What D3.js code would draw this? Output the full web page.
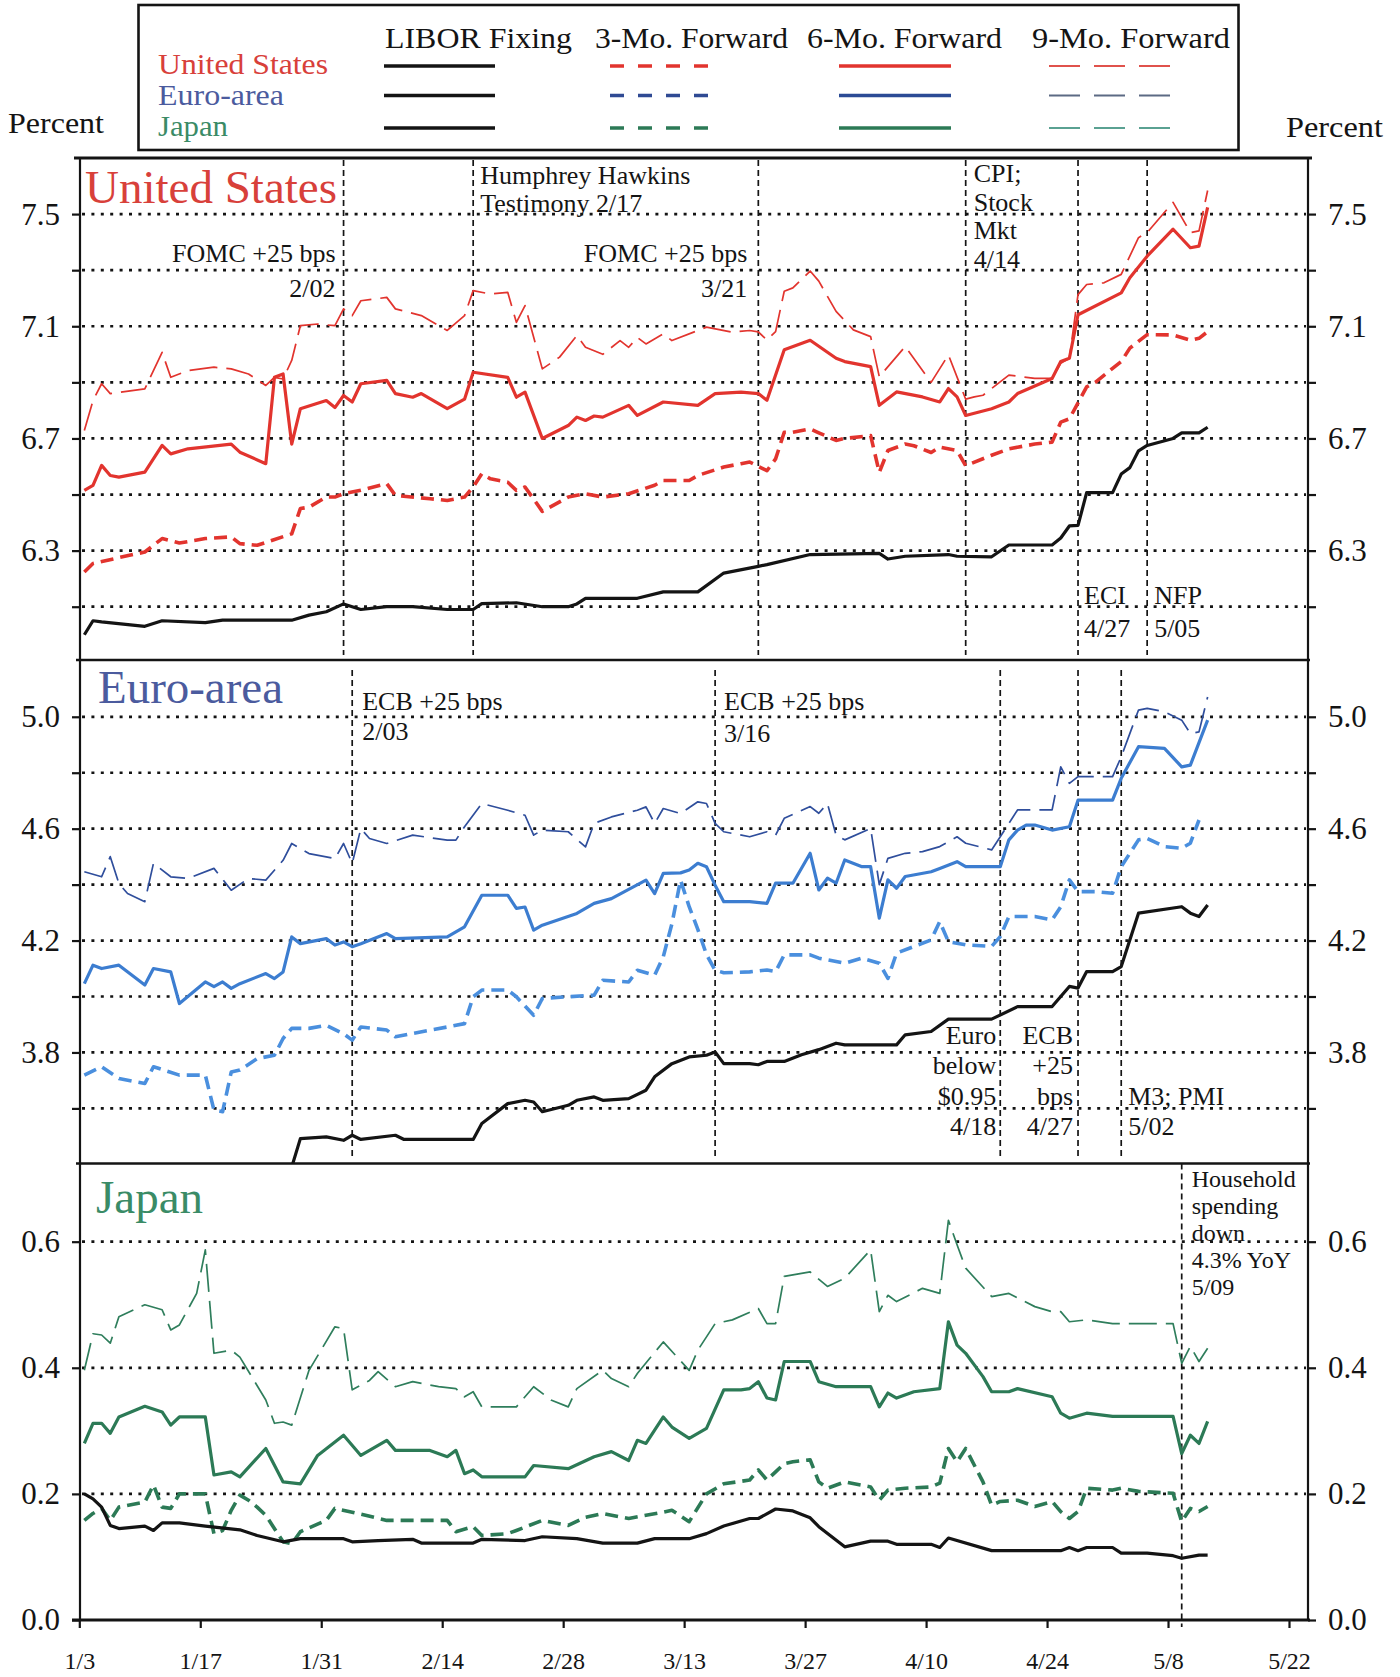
<!DOCTYPE html>
<html>
<head>
<meta charset="utf-8">
<script src="https://cdnjs.cloudflare.com/ajax/libs/d3/7.8.5/d3.min.js"></script>
<style>
  body { margin: 0; background: #fff; }
  svg { display: block; font-family: "Liberation Serif", "Times New Roman", serif; }
</style>
</head>
<body>
<svg id="chart" width="1400" height="1677"></svg>
<script>
// ---------------- Data: daily quotes, percent ----------------
const usLibor = [["1/3",6.00],["1/4",6.05],["1/5",6.046],["1/10",6.03],["1/12",6.05],["1/17",6.043],["1/19",6.052],["1/27",6.052],["1/29",6.07],["1/31",6.082],["2/2",6.11],["2/3",6.10],["2/4",6.09],["2/7",6.10],["2/10",6.10],["2/14",6.09],["2/17",6.09],["2/18",6.111],["2/22",6.114],["2/25",6.10],["2/28",6.10],["2/29",6.11],["3/1",6.13],["3/7",6.13],["3/10",6.153],["3/14",6.153],["3/17",6.22],["3/21",6.244],["3/22",6.25],["3/27",6.286],["4/4",6.29],["4/5",6.27],["4/7",6.28],["4/12",6.286],["4/13",6.28],["4/17",6.278],["4/19",6.32],["4/24",6.32],["4/25",6.345],["4/26",6.388],["4/27",6.39],["4/28",6.507],["5/1",6.507],["5/2",6.573],["5/3",6.596],["5/4",6.656],["5/5",6.675],["5/8",6.70],["5/9",6.72],["5/11",6.72],["5/12",6.74]];
const us3m = [["1/3",6.224],["1/4",6.254],["1/7",6.275],["1/10",6.295],["1/12",6.343],["1/14",6.327],["1/17",6.343],["1/20",6.349],["1/21",6.325],["1/23",6.319],["1/27",6.36],["1/28",6.45],["1/29",6.455],["1/31",6.491],["2/1",6.491],["2/2",6.503],["2/4",6.515],["2/7",6.539],["2/8",6.497],["2/12",6.485],["2/14",6.479],["2/16",6.491],["2/17",6.527],["2/18",6.574],["2/19",6.556],["2/21",6.544],["2/22",6.515],["2/23",6.527],["2/25",6.44],["2/28",6.491],["3/1",6.503],["3/3",6.491],["3/6",6.503],["3/9",6.533],["3/10",6.55],["3/13",6.55],["3/14",6.568],["3/17",6.598],["3/19",6.61],["3/20",6.616],["3/22",6.585],["3/23",6.627],["3/24",6.722],["3/25",6.722],["3/27",6.734],["3/28",6.72],["3/30",6.693],["3/31",6.70],["4/3",6.71],["4/4",6.579],["4/5",6.657],["4/7",6.68],["4/8",6.674],["4/10",6.65],["4/11",6.669],["4/13",6.657],["4/14",6.603],["4/17",6.64],["4/19",6.663],["4/22",6.68],["4/24",6.687],["4/25",6.758],["4/26",6.77],["4/28",6.884],["4/29",6.90],["5/1",6.95],["5/2",6.974],["5/3",7.022],["5/5",7.07],["5/8",7.069],["5/10",7.05],["5/11",7.057],["5/12",7.081]];
const us6m = [["1/3",6.515],["1/4",6.533],["1/5",6.604],["1/6",6.568],["1/7",6.562],["1/10",6.58],["1/12",6.675],["1/13",6.645],["1/15",6.663],["1/20",6.68],["1/21",6.651],["1/24",6.61],["1/25",6.918],["1/26",6.93],["1/27",6.68],["1/28",6.806],["1/31",6.835],["2/1",6.81],["2/2",6.853],["2/3",6.83],["2/4",6.895],["2/7",6.907],["2/8",6.86],["2/10",6.847],["2/11",6.86],["2/14",6.806],["2/16",6.84],["2/17",6.936],["2/21",6.918],["2/22",6.847],["2/23",6.865],["2/25",6.70],["2/28",6.746],["2/29",6.776],["3/1",6.764],["3/2",6.78],["3/3",6.776],["3/6",6.818],["3/7",6.782],["3/10",6.83],["3/14",6.818],["3/16",6.86],["3/19",6.865],["3/21",6.86],["3/22",6.836],["3/24",7.016],["3/27",7.05],["3/30",6.986],["3/31",6.974],["4/3",6.956],["4/4",6.818],["4/6",6.866],["4/9",6.848],["4/11",6.83],["4/12",6.878],["4/13",6.848],["4/14",6.782],["4/17",6.806],["4/19",6.83],["4/20",6.86],["4/24",6.914],["4/25",6.974],["4/26",6.986],["4/27",7.141],["5/2",7.219],["5/3",7.273],["5/5",7.35],["5/8",7.446],["5/10",7.38],["5/11",7.386],["5/12",7.524]];
const us9m = [["1/3",6.728],["1/4",6.835],["1/5",6.895],["1/6",6.86],["1/10",6.877],["1/12",7.007],["1/13",6.918],["1/15",6.942],["1/18",6.954],["1/20",6.948],["1/22",6.93],["1/24",6.889],["1/25",6.918],["1/26",6.912],["1/27",6.978],["1/28",7.102],["1/30",7.108],["2/1",7.102],["2/2",7.162],["2/3",7.138],["2/4",7.191],["2/7",7.203],["2/8",7.162],["2/11",7.138],["2/14",7.085],["2/16",7.138],["2/17",7.227],["2/19",7.215],["2/21",7.221],["2/22",7.114],["2/23",7.174],["2/25",6.948],["2/27",6.99],["2/29",7.067],["3/1",7.025],["3/3",7.0],["3/5",7.049],["3/6",7.025],["3/7",7.06],["3/8",7.037],["3/10",7.073],["3/11",7.049],["3/15",7.097],["3/18",7.079],["3/20",7.085],["3/21",7.08],["3/22",7.051],["3/23",7.081],["3/24",7.225],["3/25",7.237],["3/27",7.297],["3/28",7.261],["3/30",7.153],["4/1",7.087],["4/3",7.063],["4/4",6.92],["4/7",7.028],["4/10",6.90],["4/12",6.998],["4/14",6.84],["4/15",6.848],["4/16",6.854],["4/19",6.926],["4/22",6.914],["4/24",6.914],["4/25",6.968],["4/26",6.986],["4/27",7.213],["4/28",7.249],["4/30",7.255],["5/2",7.285],["5/4",7.416],["5/5",7.434],["5/8",7.542],["5/10",7.434],["5/11",7.44],["5/12",7.584]];

const euLibor = [["1/27",3.39],["1/28",3.492],["1/31",3.498],["2/2",3.486],["2/3",3.504],["2/4",3.489],["2/8",3.504],["2/9",3.489],["2/17",3.489],["2/18",3.546],["2/21",3.617],["2/23",3.629],["2/24",3.623],["2/25",3.588],["2/28",3.611],["2/29",3.629],["3/2",3.641],["3/3",3.629],["3/6",3.635],["3/8",3.665],["3/9",3.713],["3/11",3.76],["3/13",3.784],["3/15",3.79],["3/16",3.802],["3/17",3.76],["3/20",3.76],["3/21",3.756],["3/22",3.768],["3/24",3.768],["3/26",3.792],["3/28",3.81],["3/30",3.833],["3/31",3.827],["4/6",3.827],["4/7",3.863],["4/10",3.875],["4/12",3.919],["4/17",3.919],["4/20",3.964],["4/24",3.964],["4/26",4.036],["4/27",4.03],["4/28",4.089],["5/1",4.089],["5/2",4.107],["5/4",4.298],["5/9",4.321],["5/10",4.298],["5/11",4.286],["5/12",4.327]];
const eu3m = [["1/3",3.719],["1/5",3.749],["1/7",3.707],["1/10",3.689],["1/11",3.749],["1/14",3.719],["1/17",3.719],["1/18",3.594],["1/19",3.588],["1/20",3.73],["1/21",3.737],["1/23",3.778],["1/25",3.79],["1/26",3.85],["1/27",3.886],["1/29",3.886],["1/31",3.897],["2/2",3.867],["2/3",3.844],["2/4",3.891],["2/7",3.88],["2/8",3.856],["2/12",3.88],["2/14",3.891],["2/16",3.903],["2/17",3.999],["2/18",4.023],["2/21",4.023],["2/22",3.999],["2/24",3.933],["2/25",3.993],["2/28",3.999],["3/2",4.005],["3/3",4.058],["3/6",4.052],["3/7",4.094],["3/9",4.076],["3/10",4.142],["3/11",4.26],["3/12",4.416],["3/13",4.321],["3/14",4.24],["3/15",4.15],["3/16",4.094],["3/17",4.085],["3/20",4.088],["3/22",4.095],["3/23",4.089],["3/24",4.149],["3/27",4.149],["3/28",4.137],["3/31",4.119],["4/2",4.137],["4/4",4.119],["4/5",4.065],["4/6",4.155],["4/10",4.202],["4/11",4.268],["4/12",4.196],["4/14",4.185],["4/17",4.179],["4/18",4.214],["4/19",4.286],["4/22",4.286],["4/24",4.274],["4/25",4.321],["4/26",4.417],["4/27",4.375],["4/29",4.375],["5/1",4.369],["5/2",4.464],["5/4",4.56],["5/5",4.565],["5/7",4.536],["5/9",4.53],["5/10",4.548],["5/11",4.631]];
const eu6m = [["1/3",4.046],["1/4",4.112],["1/5",4.10],["1/7",4.112],["1/10",4.041],["1/11",4.10],["1/13",4.088],["1/14",3.975],["1/17",4.052],["1/18",4.035],["1/19",4.052],["1/20",4.029],["1/21",4.046],["1/24",4.082],["1/25",4.064],["1/26",4.088],["1/27",4.213],["1/28",4.189],["1/31",4.207],["2/1",4.184],["2/2",4.195],["2/3",4.178],["2/4",4.189],["2/7",4.225],["2/8",4.207],["2/14",4.213],["2/16",4.249],["2/18",4.362],["2/21",4.362],["2/22",4.315],["2/23",4.32],["2/24",4.237],["2/25",4.255],["2/29",4.297],["3/2",4.333],["3/4",4.35],["3/8",4.416],["3/9",4.368],["3/10",4.44],["3/12",4.442],["3/13",4.452],["3/14",4.476],["3/15",4.464],["3/16",4.398],["3/17",4.339],["3/20",4.339],["3/22",4.333],["3/23",4.405],["3/25",4.405],["3/27",4.512],["3/28",4.381],["3/29",4.423],["3/30",4.405],["3/31",4.488],["4/2",4.464],["4/3",4.464],["4/4",4.28],["4/5",4.417],["4/6",4.387],["4/7",4.429],["4/10",4.446],["4/11",4.458],["4/13",4.482],["4/14",4.464],["4/18",4.464],["4/19",4.56],["4/20",4.595],["4/21",4.613],["4/22",4.613],["4/24",4.595],["4/26",4.607],["4/27",4.702],["5/1",4.702],["5/2",4.78],["5/4",4.893],["5/7",4.887],["5/9",4.821],["5/10",4.827],["5/12",4.988]];
const eu9m = [["1/3",4.446],["1/5",4.428],["1/6",4.50],["1/7",4.404],["1/8",4.368],["1/10",4.339],["1/11",4.476],["1/13",4.428],["1/15",4.422],["1/18",4.458],["1/20",4.38],["1/22",4.422],["1/24",4.416],["1/26",4.487],["1/27",4.547],["1/29",4.511],["2/1",4.493],["2/2",4.547],["2/3",4.476],["2/4",4.60],["2/5",4.565],["2/7",4.547],["2/10",4.577],["2/14",4.559],["2/15",4.559],["2/16",4.607],["2/18",4.69],["2/21",4.666],["2/23",4.648],["2/24",4.577],["2/25",4.595],["2/28",4.589],["3/1",4.535],["3/2",4.619],["3/4",4.642],["3/7",4.666],["3/8",4.678],["3/9",4.619],["3/10",4.672],["3/12",4.654],["3/14",4.696],["3/15",4.69],["3/16",4.619],["3/17",4.589],["3/20",4.571],["3/22",4.589],["3/23",4.577],["3/24",4.637],["3/27",4.679],["3/28",4.655],["3/29",4.69],["3/30",4.577],["3/31",4.56],["4/3",4.601],["4/4",4.40],["4/5",4.494],["4/7",4.512],["4/9",4.518],["4/11",4.536],["4/13",4.571],["4/14",4.548],["4/17",4.524],["4/18",4.571],["4/20",4.667],["4/24",4.667],["4/25",4.821],["4/26",4.762],["4/27",4.786],["5/1",4.786],["5/2",4.857],["5/4",5.024],["5/5",5.03],["5/7",5.018],["5/9",4.988],["5/10",4.94],["5/11",4.946],["5/12",5.071]];

const jpLibor = [["1/3",0.2],["1/4",0.192],["1/5",0.179],["1/6",0.15],["1/7",0.145],["1/10",0.149],["1/11",0.142],["1/12",0.154],["1/14",0.154],["1/17",0.149],["1/21",0.143],["1/23",0.134],["1/26",0.124],["1/28",0.129],["2/2",0.129],["2/3",0.124],["2/6",0.126],["2/10",0.128],["2/11",0.122],["2/17",0.122],["2/18",0.128],["2/23",0.126],["2/25",0.132],["2/29",0.129],["3/3",0.122],["3/7",0.122],["3/9",0.129],["3/13",0.129],["3/15",0.137],["3/17",0.149],["3/20",0.161],["3/21",0.161],["3/23",0.176],["3/25",0.173],["3/27",0.162],["3/28",0.148],["3/31",0.116],["4/3",0.125],["4/5",0.125],["4/6",0.12],["4/10",0.12],["4/11",0.115],["4/12",0.13],["4/17",0.11],["4/25",0.11],["4/26",0.115],["4/27",0.11],["4/28",0.115],["5/1",0.115],["5/2",0.106],["5/5",0.106],["5/8",0.102],["5/9",0.098],["5/11",0.103],["5/12",0.103]];
const jp3m = [["1/3",0.158],["1/4",0.169],["1/5",0.177],["1/6",0.158],["1/7",0.179],["1/10",0.187],["1/11",0.214],["1/12",0.179],["1/13",0.177],["1/14",0.2],["1/17",0.2],["1/18",0.137],["1/19",0.142],["1/20",0.174],["1/21",0.198],["1/22",0.19],["1/23",0.179],["1/24",0.166],["1/26",0.124],["1/27",0.121],["1/28",0.14],["1/31",0.158],["2/1",0.177],["2/3",0.171],["2/7",0.158],["2/12",0.158],["2/14",0.158],["2/15",0.14],["2/17",0.148],["2/18",0.134],["2/21",0.137],["2/22",0.142],["2/25",0.158],["2/28",0.15],["3/1",0.163],["3/3",0.169],["3/6",0.161],["3/10",0.171],["3/11",0.174],["3/13",0.156],["3/15",0.2],["3/17",0.216],["3/20",0.222],["3/21",0.238],["3/22",0.222],["3/23",0.235],["3/24",0.248],["3/25",0.251],["3/27",0.254],["3/28",0.219],["3/29",0.209],["3/31",0.219],["4/3",0.211],["4/4",0.19],["4/5",0.206],["4/7",0.209],["4/10",0.211],["4/11",0.217],["4/12",0.272],["4/13",0.251],["4/14",0.272],["4/16",0.219],["4/17",0.182],["4/18",0.188],["4/20",0.19],["4/22",0.18],["4/24",0.188],["4/25",0.172],["4/26",0.161],["4/27",0.172],["4/28",0.209],["5/1",0.206],["5/2",0.209],["5/4",0.204],["5/8",0.201],["5/9",0.156],["5/10",0.177],["5/11",0.172],["5/12",0.18]];
const jp6m = [["1/3",0.28],["1/4",0.312],["1/5",0.312],["1/6",0.296],["1/7",0.322],["1/10",0.339],["1/12",0.33],["1/13",0.309],["1/14",0.322],["1/17",0.322],["1/18",0.23],["1/20",0.235],["1/21",0.227],["1/24",0.272],["1/26",0.219],["1/28",0.216],["1/30",0.261],["2/2",0.293],["2/4",0.261],["2/7",0.285],["2/8",0.269],["2/12",0.269],["2/14",0.259],["2/15",0.269],["2/16",0.232],["2/17",0.238],["2/18",0.227],["2/23",0.227],["2/24",0.245],["2/28",0.24],["3/2",0.259],["3/4",0.267],["3/6",0.253],["3/7",0.285],["3/8",0.28],["3/10",0.322],["3/11",0.306],["3/13",0.288],["3/15",0.304],["3/17",0.365],["3/19",0.365],["3/20",0.367],["3/21",0.378],["3/22",0.352],["3/23",0.349],["3/24",0.41],["3/27",0.41],["3/28",0.378],["3/30",0.37],["4/3",0.37],["4/4",0.338],["4/5",0.36],["4/6",0.352],["4/8",0.362],["4/11",0.367],["4/12",0.473],["4/13",0.436],["4/14",0.423],["4/16",0.386],["4/17",0.362],["4/19",0.362],["4/20",0.367],["4/24",0.354],["4/25",0.328],["4/26",0.32],["4/28",0.328],["5/1",0.323],["5/8",0.323],["5/9",0.264],["5/10",0.293],["5/11",0.28],["5/12",0.315]];
const jp9m = [["1/3",0.396],["1/4",0.454],["1/5",0.452],["1/6",0.439],["1/7",0.481],["1/10",0.5],["1/12",0.492],["1/13",0.46],["1/14",0.468],["1/16",0.518],["1/17",0.587],["1/18",0.423],["1/20",0.428],["1/21",0.417],["1/24",0.349],["1/25",0.312],["1/26",0.314],["1/27",0.309],["1/29",0.396],["2/1",0.465],["2/2",0.462],["2/3",0.365],["2/5",0.38],["2/6",0.394],["2/8",0.37],["2/10",0.378],["2/13",0.37],["2/15",0.367],["2/16",0.354],["2/17",0.362],["2/18",0.338],["2/22",0.338],["2/24",0.37],["2/26",0.349],["2/28",0.338],["2/29",0.367],["3/3",0.396],["3/4",0.383],["3/6",0.37],["3/7",0.391],["3/10",0.441],["3/13",0.396],["3/14",0.428],["3/16",0.47],["3/18",0.476],["3/21",0.494],["3/22",0.47],["3/23",0.47],["3/24",0.545],["3/27",0.552],["3/29",0.529],["3/31",0.542],["4/3",0.587],["4/4",0.489],["4/5",0.515],["4/6",0.505],["4/9",0.526],["4/11",0.518],["4/12",0.634],["4/13",0.595],["4/14",0.558],["4/17",0.513],["4/19",0.518],["4/22",0.497],["4/24",0.489],["4/25",0.489],["4/26",0.473],["4/28",0.476],["5/1",0.47],["5/8",0.47],["5/9",0.407],["5/10",0.434],["5/11",0.41],["5/12",0.431]];

// ---------------- Axis ticks and labels ----------------
const xTickLabels = ["1/3","1/17","1/31","2/14","2/28","3/13","3/27","4/10","4/24","5/8","5/22"];
const usTicks = [6.1, 6.3, 6.5, 6.7, 6.9, 7.1, 7.3, 7.5];
const usTickLabels = [6.3, 6.7, 7.1, 7.5];
const euTicks = [3.6, 3.8, 4.0, 4.2, 4.4, 4.6, 4.8, 5.0];
const euTickLabels = [3.8, 4.2, 4.6, 5.0];
const jpTicks = [0.0, 0.2, 0.4, 0.6];
const jpTickLabels = [0.0, 0.2, 0.4, 0.6];
const jpGrid = [0.2, 0.4, 0.6];

// ---------------- Event annotations ----------------
const usEvents = [
  ["2/2",  ["FOMC +25 bps", "2/02"]],
  ["2/17", ["Humphrey Hawkins", "Testimony 2/17"]],
  ["3/21", ["FOMC +25 bps", "3/21"]],
  ["4/14", ["CPI;", "Stock", "Mkt", "4/14"]],
  ["4/27", ["ECI", "4/27"]],
  ["5/5",  ["NFP", "5/05"]]
];
const euEvents = [
  ["2/3",  ["ECB +25 bps", "2/03"]],
  ["3/16", ["ECB +25 bps", "3/16"]],
  ["4/18", ["Euro", "below", "$0.95", "4/18"]],
  ["4/27", ["ECB", "+25", "bps", "4/27"]],
  ["5/2",  ["M3; PMI", "5/02"]]
];
const jpEvents = [
  ["5/9", ["Household", "spending", "down", "4.3% YoY", "5/09"]]
];

// ---------------- Legend ----------------
const legendCountries = ["United States", "Euro-area", "Japan"];
const legendColumns = ["LIBOR Fixing", "3-Mo. Forward", "6-Mo. Forward", "9-Mo. Forward"];

// ---------------- Styling ----------------
const INK = "#141414";
const colors = {
  us: { title: "#d8403a", libor: INK, m3: "#e2342e", m6: "#e2342e", m9: "#e2342e" },
  eu: { title: "#4b5b9e", libor: INK, m3: "#4a8fde", m6: "#3c7dd0", m9: "#2f4e9c" },
  jp: { title: "#3a8b66", libor: INK, m3: "#2c7a56", m6: "#2c7a56", m9: "#2f7e5c" }
};
// swatch colours used in the key box
const swatchColors = {
  us: { libor: INK, m3: "#e2342e", m6: "#e2342e", m9: "#e0524c" },
  eu: { libor: INK, m3: "#2f4a93", m6: "#2b4b95", m9: "#5c6a84" },
  jp: { libor: INK, m3: "#2c7a56", m6: "#2c7a56", m9: "#5aa192" }
};
const strokes = {
  libor: { w: 3.2, dash: null },
  m3:    { w: 3.6, dash: "13,7" },
  m6:    { w: 3.2, dash: null },
  m9:    { w: 1.7, dash: "28,9" }
};

const svg = d3.select("#chart");
svg.append("rect").attr("width", 1400).attr("height", 1677).attr("fill", "#fff");
const defs = svg.append("defs");

const FRAME_L = 80, FRAME_R = 1308;

const parseDay = s => { const [m, d] = s.split("/").map(Number); return new Date(2000, m - 1, d); };
// quotes and events sit at the close of their trading day
const atClose = s => d3.timeHour.offset(parseDay(s), 14);

const x = d3.scaleTime()
  .domain([parseDay("1/3"), parseDay("5/22")])
  .range([79.3, 1289]);

const panels = [
  {
    key: "us", title: "United States", titleX: 85, titleY: 203, titleLen: 252,
    top: 158, bottom: 660, domain: [5.91, 7.70],
    ticks: usTicks, labels: usTickLabels, grid: usTicks,
    series: { libor: usLibor, m3: us3m, m6: us6m, m9: us9m },
    events: usEvents, evTop: 2, evBottom: -5, evFont: 26,
    layout: [
      { side: "end",   dx: -8,  y0: 104,   step: 35 },
      { side: "start", dx: 7,   y0: 25.5,  step: 28.5 },
      { side: "end",   dx: -11, y0: 104,   step: 35 },
      { side: "start", dx: 8,   y0: 24,    step: 28.7 },
      { side: "start", dx: 6,   y0: 445.5, step: 33.4 },
      { side: "start", dx: 7,   y0: 445.5, step: 33.4 }
    ]
  },
  {
    key: "eu", title: "Euro-area", titleX: 98, titleY: 703, titleLen: 185,
    top: 660, bottom: 1163.5, domain: [3.403, 5.203],
    ticks: euTicks, labels: euTickLabels, grid: euTicks,
    series: { libor: euLibor, m3: eu3m, m6: eu6m, m9: eu9m },
    events: euEvents, evTop: 10, evBottom: -6, evFont: 26,
    layout: [
      { side: "start", dx: 10, y0: 50,    step: 30 },
      { side: "start", dx: 9,  y0: 50,    step: 31.5 },
      { side: "end",   dx: -4, y0: 383.5, step: 30.6 },
      { side: "end",   dx: -5, y0: 383.5, step: 30.6 },
      { side: "start", dx: 7,  y0: 445,   step: 30 }
    ]
  },
  {
    key: "jp", title: "Japan", titleX: 96, titleY: 1213, titleLen: 107,
    top: 1163.5, bottom: 1620, domain: [0, 0.724],
    ticks: jpTicks, labels: jpTickLabels, grid: jpGrid,
    series: { libor: jpLibor, m3: jp3m, m6: jp6m, m9: jp9m },
    events: jpEvents, evTop: 0, evBottom: 7, evFont: 24,
    layout: [
      { side: "start", dx: 10, y0: 23, step: 27.1 }
    ]
  }
];

const fmt = d3.format(".1f");
const drawOrder = ["m9", "m6", "m3", "libor"];

panels.forEach(p => {
  const y = d3.scaleLinear().domain(p.domain).range([p.bottom, p.top]);
  const g = svg.append("g").attr("class", "panel-" + p.key);

  defs.append("clipPath").attr("id", "clip-" + p.key)
    .append("rect")
    .attr("x", FRAME_L).attr("y", p.top)
    .attr("width", FRAME_R - FRAME_L).attr("height", p.bottom - p.top);

  // dotted horizontal gridlines
  g.append("g").selectAll("line").data(p.grid).join("line")
    .attr("x1", FRAME_L + 2).attr("x2", FRAME_R - 2)
    .attr("y1", d => y(d)).attr("y2", d => y(d))
    .attr("stroke", INK).attr("stroke-width", 2.7)
    .attr("stroke-dasharray", "3,6.4");

  // value axes on both sides
  const tf = d => p.labels.some(v => Math.abs(v - d) < 1e-9) ? fmt(d) : "";
  const leftAxis = d3.axisLeft(y).tickValues(p.ticks).tickSize(8).tickPadding(12).tickFormat(tf);
  const rightAxis = d3.axisRight(y).tickValues(p.ticks).tickSize(8).tickPadding(12).tickFormat(tf);
  [[leftAxis, FRAME_L], [rightAxis, FRAME_R]].forEach(([ax, px]) => {
    const a = g.append("g").attr("transform", `translate(${px},0)`).call(ax);
    a.select(".domain").remove();
    a.selectAll(".tick line").attr("stroke", INK).attr("stroke-width", 2.2);
    a.selectAll(".tick text")
      .attr("fill", INK).attr("font-size", 31)
      .attr("font-family", "Liberation Serif, Times New Roman, serif");
  });

  // event markers
  const ev = g.append("g");
  p.events.forEach(([date, lines], i) => {
    const ex = x(atClose(date));
    ev.append("line")
      .attr("x1", ex).attr("x2", ex)
      .attr("y1", p.top + p.evTop).attr("y2", p.bottom + p.evBottom)
      .attr("stroke", INK).attr("stroke-width", 1.7)
      .attr("stroke-dasharray", "6,4");
    const L = p.layout[i];
    const t = ev.append("text")
      .attr("text-anchor", L.side)
      .attr("font-size", p.evFont)
      .attr("fill", INK);
    lines.forEach((s, k) => {
      t.append("tspan").attr("x", ex + L.dx).attr("y", p.top + L.y0 + k * L.step).text(s);
    });
  });

  // series
  const line = d3.line()
    .x(d => x(atClose(d[0])))
    .y(d => y(d[1]));
  const sg = g.append("g").attr("clip-path", `url(#clip-${p.key})`);
  drawOrder.forEach(k => {
    sg.append("path")
      .datum(p.series[k])
      .attr("d", line)
      .attr("fill", "none")
      .attr("stroke", colors[p.key][k])
      .attr("stroke-width", strokes[k].w)
      .attr("stroke-linejoin", "round")
      .attr("stroke-dasharray", strokes[k].dash);
  });

  // panel title
  g.append("text")
    .attr("x", p.titleX).attr("y", p.titleY)
    .attr("font-size", 46)
    .attr("textLength", p.titleLen).attr("lengthAdjust", "spacingAndGlyphs")
    .attr("fill", colors[p.key].title)
    .text(p.title);
});

// time axis along the bottom
const xAxis = d3.axisBottom(x)
  .tickValues(xTickLabels.map(parseDay))
  .tickSize(8).tickPadding(24)
  .tickFormat((d, i) => xTickLabels[i]);
const xa = svg.append("g").attr("transform", "translate(0,1620)").call(xAxis);
xa.select(".domain").remove();
xa.selectAll(".tick line").attr("stroke", INK).attr("stroke-width", 2.2);
xa.selectAll(".tick text").attr("fill", INK).attr("font-size", 24)
  .attr("font-family", "Liberation Serif, Times New Roman, serif");

// frame
const frame = svg.append("g").attr("stroke", INK).attr("fill", "none");
frame.append("line").attr("x1", 74).attr("x2", 1312).attr("y1", 158).attr("y2", 158).attr("stroke-width", 3.2);
frame.append("line").attr("x1", 76).attr("x2", 1310).attr("y1", 660).attr("y2", 660).attr("stroke-width", 2.6);
frame.append("line").attr("x1", 76).attr("x2", 1310).attr("y1", 1163.5).attr("y2", 1163.5).attr("stroke-width", 2.6);
frame.append("line").attr("x1", 72).attr("x2", 1310).attr("y1", 1620).attr("y2", 1620).attr("stroke-width", 3);
frame.append("line").attr("x1", FRAME_L).attr("x2", FRAME_L).attr("y1", 158).attr("y2", 1620).attr("stroke-width", 2.2);
frame.append("line").attr("x1", FRAME_R).attr("x2", FRAME_R).attr("y1", 158).attr("y2", 1620).attr("stroke-width", 2.2);

// unit labels
svg.append("text").attr("x", 8).attr("y", 133).attr("font-size", 30)
  .attr("textLength", 96).attr("lengthAdjust", "spacingAndGlyphs").attr("fill", INK).text("Percent");
svg.append("text").attr("x", 1286).attr("y", 137).attr("font-size", 30)
  .attr("textLength", 97).attr("lengthAdjust", "spacingAndGlyphs").attr("fill", INK).text("Percent");

// legend
const lg = svg.append("g");
lg.append("rect").attr("x", 138.5).attr("y", 5).attr("width", 1100).attr("height", 145)
  .attr("fill", "#fff").attr("stroke", INK).attr("stroke-width", 2.6);
const colX = [385, 595, 807, 1032];
const colWidths = [187, 193, 195, 198];
legendColumns.forEach((s, j) => {
  lg.append("text").attr("x", colX[j]).attr("y", 48).attr("font-size", 29)
    .attr("textLength", colWidths[j]).attr("lengthAdjust", "spacingAndGlyphs")
    .attr("fill", INK).text(s);
});
const rowY = [66, 95.5, 128];
const nameY = [73.5, 105, 136];
const nameLen = [170, 126, 70];
const sampleX = [[384, 495], [610, 710], [839, 951], [1049, 1179]];
const legendDash = { libor: null, m3: "14,14", m6: null, m9: "31,14" };
const keys = ["libor", "m3", "m6", "m9"];
const countryKeys = ["us", "eu", "jp"];
legendCountries.forEach((name, i) => {
  const ck = countryKeys[i];
  lg.append("text").attr("x", 158).attr("y", nameY[i]).attr("font-size", 30)
    .attr("textLength", nameLen[i]).attr("lengthAdjust", "spacingAndGlyphs")
    .attr("fill", colors[ck].title).text(name);
  keys.forEach((k, j) => {
    lg.append("line")
      .attr("x1", sampleX[j][0]).attr("x2", sampleX[j][1])
      .attr("y1", rowY[i]).attr("y2", rowY[i])
      .attr("stroke", swatchColors[ck][k])
      .attr("stroke-width", k === "m9" ? 2 : 3.4)
      .attr("stroke-dasharray", legendDash[k]);
  });
});
</script>
</body>
</html>
